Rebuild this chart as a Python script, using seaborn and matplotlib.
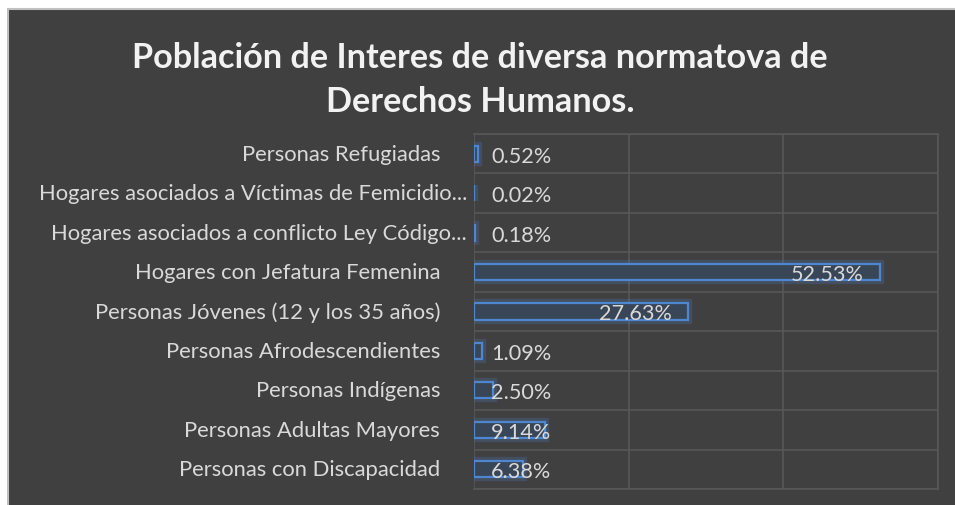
import matplotlib
matplotlib.use('Agg')
import matplotlib.pyplot as plt
import seaborn as sns
import pandas as pd
from matplotlib.patches import Rectangle

# Data
categories = [
    'Personas Refugiadas',
    'Hogares asociados a Víctimas de Femicidio...',
    'Hogares asociados a conflicto Ley Código...',
    'Hogares con Jefatura Femenina',
    'Personas Jóvenes (12 y los 35 años)',
    'Personas Afrodescendientes',
    'Personas Indígenas',
    'Personas Adultas Mayores',
    'Personas con Discapacidad',
]
values = [0.52, 0.02, 0.18, 52.53, 27.63, 1.09, 2.50, 9.14, 6.38]
value_labels = ['0.52%', '0.02%', '0.18%', '52.53%', '27.63%', '1.09%', '2.50%', '9.14%', '6.38%']
title = 'Población de Interes de diversa normatova de\nDerechos Humanos.'

df = pd.DataFrame({'categoria': categories, 'valor': values})

# Style
sns.set_style('dark')
plt.rcParams['font.family'] = ['Lato', 'DejaVu Sans']

bg = '#404040'
grid_col = '#575757'
text_col = '#d9d9d9'
bar_edge = '#4f86d0'
bar_face = '#394658'

fig = plt.figure(figsize=(9.55, 5.06), dpi=100, facecolor='white')
# dark chart area, cropped at right/bottom like the screenshot
fig.patches.append(Rectangle((8 / 955, -0.1), 1.2, 0.1 + (506 - 10) / 506, transform=fig.transFigure,
                             facecolor=bg, edgecolor='#c0c0c0', linewidth=1.5, zorder=-10))

ax = fig.add_axes([474 / 955, 16 / 506, 464 / 955, 355 / 506])
ax.set_facecolor(bg)

# glow layer
sns.barplot(data=df, x='valor', y='categoria', orient='h', width=0.41, ax=ax,
            color=bar_edge, saturation=1)
for p in ax.patches:
    p.set_facecolor('none')
    p.set_edgecolor((0.31, 0.53, 0.82, 0.22))
    p.set_linewidth(6)
n_glow = len(ax.patches)

sns.barplot(data=df, x='valor', y='categoria', orient='h', width=0.41, ax=ax,
            color=bar_face, saturation=1)
for p in ax.patches[n_glow:]:
    p.set_facecolor(bar_face)
    p.set_edgecolor(bar_edge)
    p.set_linewidth(1.6)

ax.set_xlim(0, 60)
ax.set_ylim(len(categories) - 0.5, -0.5)
ax.set_xticks([0, 20, 40, 60])
ax.set_xticklabels([])
ax.set_yticks(range(len(categories)))
ax.set_yticklabels([])
ax.set_yticks([i - 0.5 for i in range(len(categories) + 1)], minor=True)
ax.tick_params(axis='both', which='both', length=0)
ax.grid(False)
ax.grid(True, axis='x', which='major', color=grid_col, linewidth=1.2)
ax.grid(True, axis='y', which='minor', color=grid_col, linewidth=1.2)
ax.set_axisbelow(True)
ax.set_xlabel('')
ax.set_ylabel('')
for side in ['top', 'right', 'bottom']:
    ax.spines[side].set_color(grid_col)
    ax.spines[side].set_linewidth(1.2)
ax.spines['left'].set_visible(False)

# Category labels (truncated ones sit closer to the axis)
ytrans = ax.get_yaxis_transform()
for i, cat in enumerate(categories):
    pad = 7 if cat.endswith('...') else 34
    ax.text(-pad / 464, i, cat, transform=ytrans, ha='right', va='center',
            fontsize=15.8, color=text_col)

# Value labels
for i, (v, lab) in enumerate(zip(values, value_labels)):
    if v > 14:
        ax.text(v - 2.1, i + 0.05, lab, ha='right', va='center', fontsize=15.6, color=text_col)
    else:
        ax.text(2.2, i + 0.05, lab, ha='left', va='center', fontsize=15.6, color=text_col)

fig.text(480 / 955, 1 - 80 / 506, title, ha='center', va='center', fontsize=24.7,
         fontweight='bold', color='#f2f2f2', linespacing=1.45)

fig.savefig('out.png', dpi=100, facecolor='white')
